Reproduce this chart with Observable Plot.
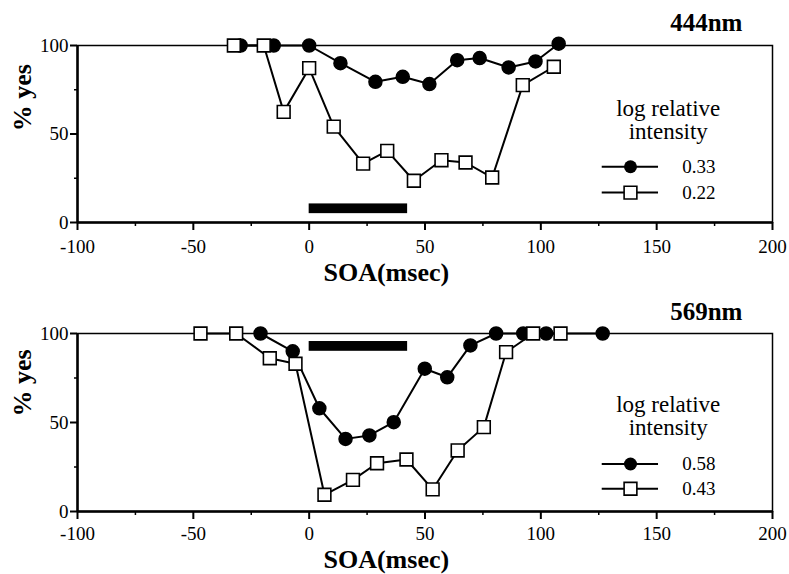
<!DOCTYPE html>
<html><head><meta charset="utf-8">
<script src="https://cdn.jsdelivr.net/npm/d3@7"></script>
<script src="https://cdn.jsdelivr.net/npm/@observablehq/plot@0.6"></script>
<style>
body{margin:0;background:#fff}
#chart svg{display:block;overflow:visible}
#chart svg, #chart svg text{font-family:"Liberation Serif","Times New Roman",Times,serif !important}
</style>
</head><body><div id="chart"></div>
<script>
// ---- data ----
const xTicks = [-100, -50, 0, 50, 100, 150, 200];
const xMinorTicks = [-75, -25, 25, 75, 125, 175];
const yTicks = [0, 50, 100];
const yMinorTicks = [25, 75];
const xLabel = "SOA(msec)";
const yLabel = "% yes";
const legendTitle = ["log relative", "intensity"];

const topTitle = "444nm";
const topSeriesNames = ["0.33", "0.22"];
const topHighX = [-29.6, -15.3, 0, 13.5, 28.6, 40.4, 51.9, 63.9, 73.6, 86.1, 97.7, 107.7];
const topHighY = [100, 100, 100, 90, 79.5, 82.3, 78.2, 91.7, 92.9, 87.6, 91, 101];
const topLowX = [-32.5, -19.6, -11, 0, 10.6, 23.3, 33.7, 45.2, 57.1, 67.5, 79, 92.2, 105.6];
const topLowY = [100, 100, 62.5, 87.2, 54.2, 33.3, 40.5, 23.6, 35.2, 33.9, 25.4, 77.6, 88];
const topStimulus = [0, 42.5];       // SOA range of stimulus bar
const topStimulusLevel = [5, 10.5];  // vertical extent of bar

const botTitle = "569nm";
const botSeriesNames = ["0.58", "0.43"];
const botHighX = [-21, -7.1, 4.4, 15.7, 26, 36.5, 49.9, 59.6, 69.6, 80.7, 92.4, 102.3, 126.7];
const botHighY = [100, 90, 58, 40.8, 42.7, 50.2, 80.2, 75.4, 93.3, 100, 100, 100, 100];
const botLowX = [-46.9, -31.5, -17, -5.9, 6.6, 18.9, 29.3, 42, 53.3, 64.1, 75.4, 85, 96.7, 108.5];
const botLowY = [100, 100, 86.1, 83, 9.4, 17.8, 27.1, 29.2, 12.4, 34.3, 47.4, 89.5, 100, 100];
const botStimulus = [0, 42.5];
const botStimulusLevel = [90, 95.5];

// ---- layout (not data) ----
const FONT = "'Liberation Serif', 'Times New Roman', Times, serif";
const layouts = {
  top: {height: 293, marginTop: 45, marginBottom: 71, tickPadding: 9,
        titleY: 112.8, xLabelY: -28.4, yLabelY: 70.5,
        legTitleY: [64.5, 51.5], legRowY: [31.5, 16.9]},
  bot: {height: 281, marginTop: 40, marginBottom: 63, tickPadding: 7,
        titleY: 112, xLabelY: -27, yLabelY: 72.2,
        legTitleY: [59.9, 47], legRowY: [26.7, 12.8]}
};

function zip(xs, ys) { return xs.map((x, i) => ({x, y: ys[i]})); }

function panel(p, L) {
  const high = zip(p.highX, p.highY);
  const low = zip(p.lowX, p.lowY);
  const bar = [{x1: p.stim[0], x2: p.stim[1], y1: p.stimLevel[0], y2: p.stimLevel[1]}];
  const legRows = [
    {name: p.names[0], y: L.legRowY[0], kind: "circle"},
    {name: p.names[1], y: L.legRowY[1], kind: "square"}
  ];
  return Plot.plot({
    width: 789, height: L.height,
    marginLeft: 77, marginRight: 17, marginTop: L.marginTop, marginBottom: L.marginBottom,
    style: {fontFamily: FONT, fontSize: "19px", background: "white", color: "black", overflow: "visible"},
    x: {domain: [-100, 200], label: null},
    y: {domain: [0, 100], label: null},
    marks: [
      Plot.frame({stroke: "black", strokeWidth: 1.5}),
      Plot.ruleX([-100], {stroke: "black", strokeWidth: 2.5}),
      Plot.ruleY([0], {stroke: "black", strokeWidth: 2.5}),
      Plot.axisX(xTicks, {tickSize: 8, tickPadding: L.tickPadding, strokeWidth: 2, fontSize: 19, fontFamily: FONT, tickFormat: d => String(d)}),
      Plot.axisX(xMinorTicks, {tickSize: 4, strokeWidth: 1.5, tickFormat: () => ""}),
      Plot.axisY(yTicks, {tickSize: 7, tickPadding: 2, strokeWidth: 2, fontSize: 19, fontFamily: FONT, tickFormat: d => String(d)}),
      Plot.axisY(yMinorTicks, {tickSize: 3, strokeWidth: 1.5, tickFormat: () => ""}),
      Plot.rect(bar, {x1: "x1", x2: "x2", y1: "y1", y2: "y2", fill: "black"}),
      Plot.line(high, {x: "x", y: "y", stroke: "black", strokeWidth: 2}),
      Plot.dot(high, {x: "x", y: "y", r: 6.5, fill: "black", stroke: "black"}),
      Plot.line(low, {x: "x", y: "y", stroke: "black", strokeWidth: 2}),
      Plot.dot(low, {x: "x", y: "y", symbol: "square", r: 7.2, fill: "white", stroke: "black", strokeWidth: 1.6}),
      // title
      Plot.text([p.title], {x: 187, y: L.titleY, text: d => d, textAnchor: "end", fontSize: 25, fontWeight: "bold", fontFamily: FONT}),
      // axis labels
      Plot.text([xLabel], {x: 33.3, y: L.xLabelY, text: d => d, fontSize: 26, fontWeight: "bold", fontFamily: FONT}),
      Plot.text([yLabel], {x: -123.7, y: L.yLabelY, text: d => d, rotate: -90, fontSize: 26, fontWeight: "bold", fontFamily: FONT}),
      // legend
      Plot.text(legendTitle, {x: 155, y: (d, i) => L.legTitleY[i], text: d => d, fontSize: 23, fontFamily: FONT}),
      Plot.ruleY(legRows, {y: "y", x1: 126.5, x2: 150.8, stroke: "black", strokeWidth: 2}),
      Plot.dot(legRows.filter(d => d.kind === "circle"), {x: 138.7, y: "y", r: 6.5, fill: "black"}),
      Plot.dot(legRows.filter(d => d.kind === "square"), {x: 138.7, y: "y", symbol: "square", r: 7.2, fill: "white", stroke: "black", strokeWidth: 1.6}),
      Plot.text(legRows, {x: 161, y: "y", text: "name", textAnchor: "start", fontSize: 19, fontFamily: FONT})
    ]
  });
}

const chart = document.getElementById("chart");
chart.append(panel({title: topTitle, names: topSeriesNames, highX: topHighX, highY: topHighY,
  lowX: topLowX, lowY: topLowY, stim: topStimulus, stimLevel: topStimulusLevel}, layouts.top));
chart.append(panel({title: botTitle, names: botSeriesNames, highX: botHighX, highY: botHighY,
  lowX: botLowX, lowY: botLowY, stim: botStimulus, stimLevel: botStimulusLevel}, layouts.bot));
</script>
</body></html>
